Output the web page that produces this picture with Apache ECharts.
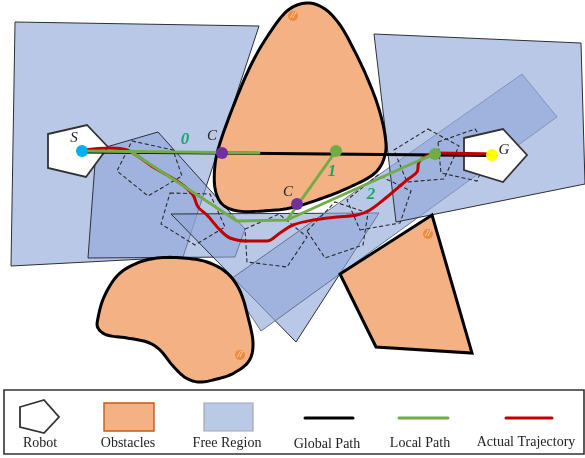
<!DOCTYPE html>
<html><head><meta charset="utf-8">
<style>html,body{margin:0;padding:0;background:#fff}#c{width:585px;height:458px}</style>
<script src="https://cdn.jsdelivr.net/npm/echarts@6/dist/echarts.min.js"></script>
</head><body><div id="c"></div>
<script>
const freeLeft=[[15,22],[259,26],[183,257],[11,266]];
const freeMid=[[158,132],[96,150],[88,258],[235,257],[245,229]];
const freeTriangle=[[171,214],[379,213],[296,342]];
const freeBand=[[522,74],[557,117],[261,331],[228,281]];
const freeRight=[[374,34],[581,43],[585,184],[396,222]];
const obstacleTop=[[307,3],[325,9],[340,25],[352,46],[366,75],[378,106],[385,135],[385,155],[375,173],[350,187],[320,199],[290,208],[263,211],[238,211],[222,204],[215,188],[215,165],[220,143],[233,107],[250,67],[267,37],[287,11]];
const obstacleLeft=[[98,318],[104,297],[117,276],[135,264],[157,258],[183,258],[207,262],[227,273],[240,291],[248,317],[253,343],[249,361],[234,373],[217,379],[200,382],[186,378],[173,366],[160,350],[147,342],[127,338],[107,335],[98,328]];
const obstacleRight=[[432,215],[472,353],[376,347],[340,274]];
const robotStart=[[48,134],[87,125],[108,147],[86,177],[48,168]];
const robotGoal=[[464,138],[503,129],[527,155],[503,182],[464,170]];
const ghostRobots=[
 [[132,141],[173,150],[182,176],[148,196],[117,171]],
 [[170,193],[210,194],[225,227],[195,245],[161,224]],
 [[245,229],[279,214],[307,237],[287,267],[247,262]],
 [[307,231],[335,202],[368,213],[363,245],[325,258]],
 [[360,230],[400,223],[411,191],[378,175],[347,200]],
 [[428,129],[459,146],[444,179],[407,182],[394,150]],
 [[438,142],[475,129],[490,150],[477,181],[441,173]]
];
const globalPath=[[82,152],[220,153],[492,155.5]];
const localPath0=[[82,151],[222,152.5],[259,153]];
const localPath1=[[130,151],[237,221],[287,220],[336,151]];
const localPath2=[[287,220],[420,160],[435,154]];
const actualPath=[[82,150],[110,148],[127,150],[153,167],[180,183],[193,195],[198,207],[207,215],[220,230],[230,238],[247,241],[267,241],[280,233],[293,225],[313,220],[337,217],[357,215],[370,210],[387,197],[407,180],[417,172],[419,162],[427,156],[435,153],[492,154]];
const purpleNodes=[[222,153],[297,204]];
const greenNodes=[[336,151],[435,154]];
const startNode=[[82,151]];
const goalNode=[[492,155]];
const marks=[[293,16],[240,355],[428,234]];
const serifLabels=['S','C','C','G'], serifPos=[[74,138],[212,136],[288,192],[504,150]];
const greenLabels=['0','1','2'], greenPos=[[185,140],[332,172],[371,195]];
const legendBox=[[4,390],[584,390],[584,454],[4,454]];
const legendRobot=[[20,407],[44,400],[59,417],[44,433],[20,427]];
const legendObstacle=[[104,403],[154,403],[154,431],[104,431]];
const legendFree=[[204,403],[253,403],[253,431],[204,431]];
const legendGlobal=[[305,418],[353,418]];
const legendLocal=[[399,418],[448,418]];
const legendActual=[[506,418],[552,418]];
const legendNames=['Robot','Obstacles','Free Region','Global Path','Local Path','Actual Trajectory'];
const legendNamePos=[[40,443],[128,443],[227,443],[327,444],[420,443],[526,442]];

const FREE='rgba(143,167,216,0.62)', OBS='#f4b183', GREEN='#70ad47', RED='#c00000';
// closed Catmull-Rom outline, used only to render a rounded shape through its read points
function rounded(pts){
  const out=[],n=pts.length;
  for(let i=0;i<n;i++){
    const a=pts[(i-1+n)%n],b=pts[i],c=pts[(i+1)%n],d=pts[(i+2)%n];
    for(let k=0;k<8;k++){
      const t=k/8,t2=t*t,t3=t2*t;
      out.push([0,1].map(j=>0.5*(2*b[j]+(c[j]-a[j])*t+(2*a[j]-5*b[j]+4*c[j]-d[j])*t2+(3*b[j]-a[j]-3*c[j]+d[j])*t3)));
    }
  }
  return out;
}
function poly(points,style,round){
  return {type:'custom',coordinateSystem:'cartesian2d',silent:true,data:points,encode:{x:0,y:1},clip:false,
    renderItem:(p,api)=>{
      if(p.dataIndex!==0)return null;
      const px=points.map(q=>api.coord(q));
      return {type:'polygon',shape:{points:round?rounded(px):px},style:style};}};
}
function line(points,color,width,smooth){
  return {type:'line',data:points,showSymbol:false,silent:true,smooth:smooth||false,clip:false,
    lineStyle:{color:color,width:width,cap:'round',join:'round'}};
}
function dots(points,color,size){
  return {type:'scatter',data:points,symbolSize:size,silent:true,clip:false,itemStyle:{color:color,opacity:1}};
}
function texts(rows,names,font,fill){
  return {type:'custom',coordinateSystem:'cartesian2d',silent:true,data:rows,encode:{x:0,y:1},clip:false,
    renderItem:(p,api)=>{const c=api.coord(rows[p.dataIndex]);
      return {type:'text',x:c[0],y:c[1],style:{text:names[p.dataIndex],font:font,fill:fill,align:'center',verticalAlign:'middle'}};}};
}
const series=[];
[freeLeft,freeMid,freeTriangle].forEach(r=>series.push(poly(r,{fill:FREE,stroke:'#2b2f38',lineWidth:1})));
series.push(poly(freeBand,{fill:FREE,stroke:'#5b6a82',lineWidth:0.9}));
series.push(poly(freeRight,{fill:FREE,stroke:'#2b2f38',lineWidth:1}));
ghostRobots.forEach(r=>series.push(poly(r,{fill:'transparent',stroke:'#2a2a2a',lineWidth:1.1,lineDash:[4,2.5]})));
series.push(poly(obstacleTop,{fill:OBS,stroke:'#000',lineWidth:3},true));
series.push(poly(obstacleLeft,{fill:OBS,stroke:'#000',lineWidth:3},true));
series.push(poly(obstacleRight,{fill:OBS,stroke:'#000',lineWidth:3}));
series.push(poly(robotStart,{fill:'#fff',stroke:'#333',lineWidth:1.8}));
series.push(poly(robotGoal,{fill:'#fff',stroke:'#333',lineWidth:1.8}));
series.push(line(globalPath,'#000',3));
series.push(line(actualPath,RED,3,0.35));
series.push(line(localPath0,GREEN,3));
series.push(line(localPath1,GREEN,3));
series.push(line(localPath2,GREEN,3));
series.push(dots(purpleNodes,'#7030a0',12));
series.push(dots(greenNodes,GREEN,12));
series.push(dots(startNode,'#00b0f0',12));
series.push(dots(goalNode,'#ffff00',12));
series.push(dots(marks,'#f08a3c',10));
series.push(texts(marks,marks.map(()=>'//'),'italic 9px "Liberation Serif"','#fff'));
series.push(texts(serifPos,serifLabels,'italic 15px "Liberation Serif"','#222'));
series.push(texts(greenPos,greenLabels,'italic bold 17px "Liberation Serif"','#1fa56a'));
series.push(poly(legendBox,{fill:'transparent',stroke:'#333',lineWidth:1.6}));
series.push(poly(legendRobot,{fill:'#fff',stroke:'#333',lineWidth:1.8}));
series.push(poly(legendObstacle,{fill:OBS,stroke:'#c55a11',lineWidth:1.4}));
series.push(poly(legendFree,{fill:'#b8cae6',stroke:'#a3a6ad',lineWidth:1.2}));
series.push(line(legendGlobal,'#000',3));
series.push(line(legendLocal,GREEN,3));
series.push(line(legendActual,RED,3));
series.push(texts(legendNamePos,legendNames,'14px "Liberation Serif"','#222'));
series.forEach((s,i)=>{s.z=i+2;});

const chart=echarts.init(document.getElementById('c'),null,{renderer:'canvas'});
chart.setOption({animation:false,tooltip:{show:false},
  grid:{left:0,right:0,top:0,bottom:0,containLabel:false},
  xAxis:{type:'value',min:0,max:585,show:false},
  yAxis:{type:'value',min:0,max:458,inverse:true,show:false},
  series:series});
</script></body></html>
